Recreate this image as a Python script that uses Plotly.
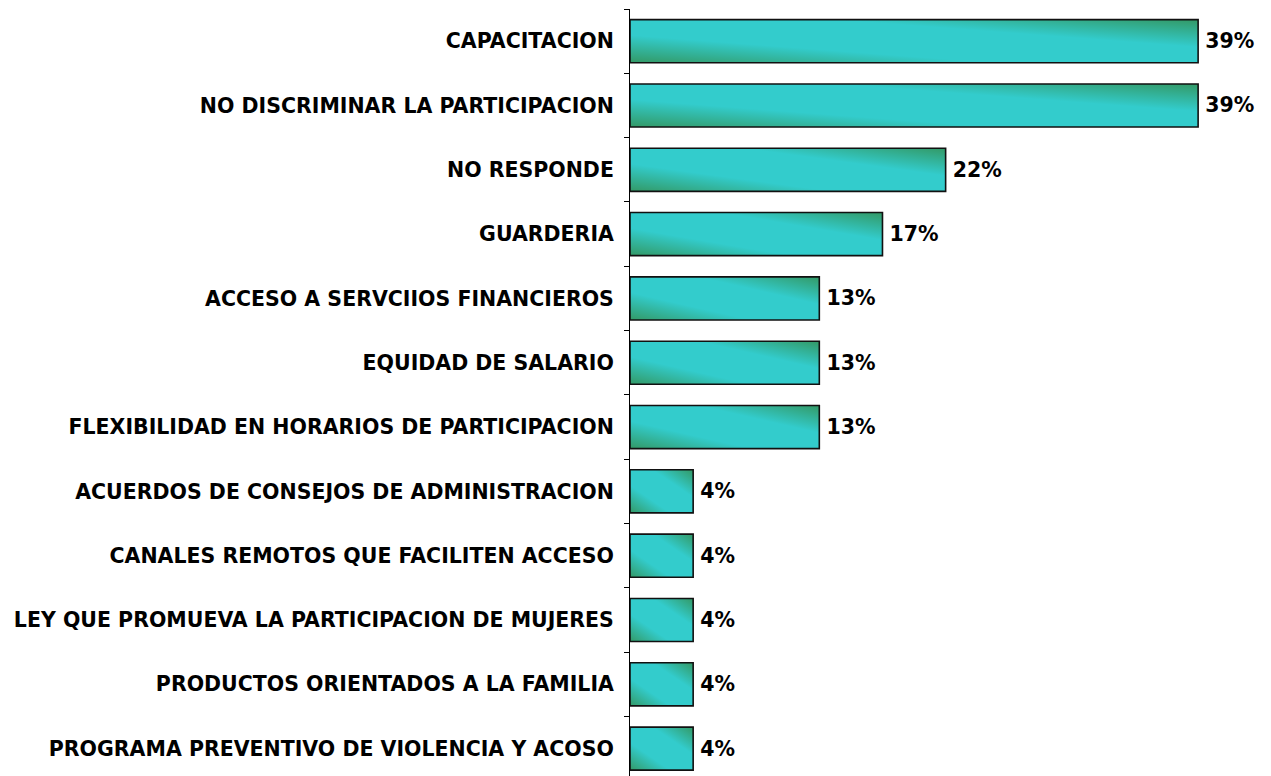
import base64
import plotly.graph_objects as go

categories = [
    "CAPACITACION",
    "NO DISCRIMINAR LA PARTICIPACION",
    "NO RESPONDE",
    "GUARDERIA",
    "ACCESO A SERVCIIOS FINANCIEROS",
    "EQUIDAD DE SALARIO",
    "FLEXIBILIDAD EN HORARIOS DE PARTICIPACION",
    "ACUERDOS DE CONSEJOS DE ADMINISTRACION",
    "CANALES REMOTOS QUE FACILITEN ACCESO",
    "LEY QUE PROMUEVA LA PARTICIPACION DE MUJERES",
    "PRODUCTOS ORIENTADOS A LA FAMILIA",
    "PROGRAMA PREVENTIVO DE VIOLENCIA Y ACOSO",
]
values = [39.13, 39.13, 21.74, 17.39, 13.04, 13.04, 13.04, 4.35, 4.35, 4.35, 4.35, 4.35]

BAR_W = 0.67
FONT = "DejaVu Sans"
FSIZE = 20.5

svg = (
    '<svg xmlns="http://www.w3.org/2000/svg" width="100" height="100" '
    'viewBox="0 0 100 100" preserveAspectRatio="none">'
    '<defs><linearGradient id="g" x1="0" y1="1" x2="1" y2="0">'
    '<stop offset="0" stop-color="#339966"/>'
    '<stop offset="0.32" stop-color="#33CCCC"/>'
    '<stop offset="0.68" stop-color="#33CCCC"/>'
    '<stop offset="1" stop-color="#339966"/>'
    '</linearGradient></defs>'
    '<rect x="0" y="0" width="100" height="100" fill="url(#g)"/></svg>'
)
src = "data:image/svg+xml;base64," + base64.b64encode(svg.encode()).decode()

fig = go.Figure()
fig.add_trace(go.Bar(
    x=values,
    y=categories,
    orientation="h",
    width=BAR_W,
    marker=dict(color="rgba(0,0,0,0)", line=dict(color="#111111", width=1.6)),
    text=values,
    texttemplate="\u2009%{x:.0f}%",
    textposition="outside",
    textfont=dict(family=FONT, size=FSIZE, color="black", weight="bold"),
    cliponaxis=False,
    hoverinfo="skip",
))

images = []
for i, v in enumerate(values):
    images.append(dict(
        source=src, xref="x", yref="y", x=0, y=i,
        xanchor="left", yanchor="middle",
        sizex=v, sizey=BAR_W, sizing="stretch", layer="below",
    ))

fig.update_layout(
    width=1263, height=776,
    margin=dict(l=622, r=0, t=1.4, b=0),
    plot_bgcolor="white", paper_bgcolor="white",
    showlegend=False,
    images=images,
    xaxis=dict(visible=False, range=[0, 44.15]),
    yaxis=dict(
        type="category",
        categoryorder="array", categoryarray=categories,
        range=[11.55, -0.5],
        showline=True, linecolor="black", linewidth=1,
        ticks="outside", tickson="boundaries", ticklen=5, tickcolor="black",
        showgrid=False, zeroline=False,
        tickfont=dict(family=FONT, size=FSIZE, color="black", weight="bold"),
        ticklabelstandoff=11,
        automargin=False,
    ),
)

fig.write_html("out.html")
